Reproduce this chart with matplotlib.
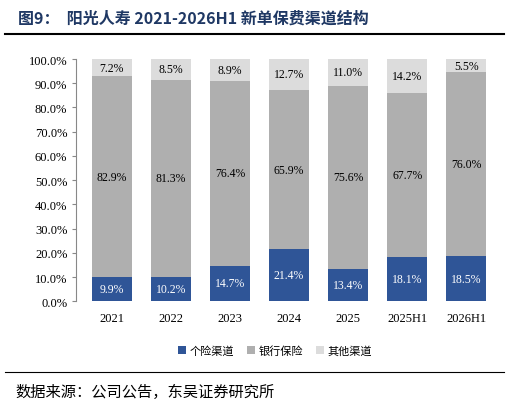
import matplotlib
matplotlib.use('Agg')
import matplotlib.pyplot as plt
import numpy as np

plt.rcParams['font.family'] = ['Noto Sans CJK SC', 'DejaVu Sans']

years = ['2021', '2022', '2023', '2024', '2025', '2025H1', '2026H1']
individual = [9.9, 10.2, 14.7, 21.4, 13.4, 18.1, 18.5]
bank = [82.9, 81.3, 76.4, 65.9, 75.6, 67.7, 76.0]
other = [7.2, 8.5, 8.9, 12.7, 11.0, 14.2, 5.5]

fig = plt.figure(figsize=(5.09, 4.14), dpi=100)
ax = fig.add_axes([0.15, 0.27, 0.83, 0.585])

x = np.arange(len(years))
w = 0.68
ind = np.array(individual); bk = np.array(bank); ot = np.array(other)
ax.bar(x, ind, w, color='#2f5597', label='个险渠道')
ax.bar(x, bk, w, bottom=ind, color='#afafaf', label='银行保险')
ax.bar(x, ot, w, bottom=ind + bk, color='#dcdcdc', label='其他渠道')

for i in range(len(years)):
    ax.text(x[i], ind[i] / 2, f'{ind[i]:.1f}%', ha='center', va='center', color='white', fontsize=8.5, family='Liberation Serif')
    ax.text(x[i], ind[i] + bk[i] / 2, f'{bk[i]:.1f}%', ha='center', va='center', color='black', fontsize=8.5, family='Liberation Serif')
    ax.text(x[i], ind[i] + bk[i] + ot[i] / 2, f'{ot[i]:.1f}%', ha='center', va='center', color='black', fontsize=8.5, family='Liberation Serif')

ax.set_ylim(0, 100)
ax.set_xlim(-0.6, len(years) - 0.45)
ax.set_yticks(np.arange(0, 101, 10))
ax.set_yticklabels([f'{v:.1f}%' for v in range(0, 101, 10)], family='Liberation Serif', fontsize=9)
ax.set_xticks(x)
ax.set_xticklabels(years, family='Liberation Serif', fontsize=9)
for s in ['top', 'right', 'bottom']:
    ax.spines[s].set_visible(False)
ax.spines['left'].set_color('#888888')
ax.tick_params(axis='x', length=0, pad=8)
ax.tick_params(axis='y', length=3, color='#888888')

ax.legend(loc='upper center', bbox_to_anchor=(0.47, -0.14), ncol=3, frameon=False,
          fontsize=8, handlelength=0.7, handleheight=0.7, columnspacing=1.2, handletextpad=0.3)

fig.text(0.035, 0.955, '图9：  阳光人寿 2021-2026H1 新单保费渠道结构', fontsize=11.5,
         fontweight='bold', color='#1f3864', va='center')
fig.add_artist(plt.Line2D([0.01, 0.99], [0.915, 0.915], color='black', lw=1.5))
fig.add_artist(plt.Line2D([0.01, 0.99], [0.1, 0.1], color='black', lw=0.8))
fig.text(0.03, 0.052, '数据来源：公司公告，东吴证券研究所', fontsize=11, va='center')

fig.savefig('out.png', dpi=100)
